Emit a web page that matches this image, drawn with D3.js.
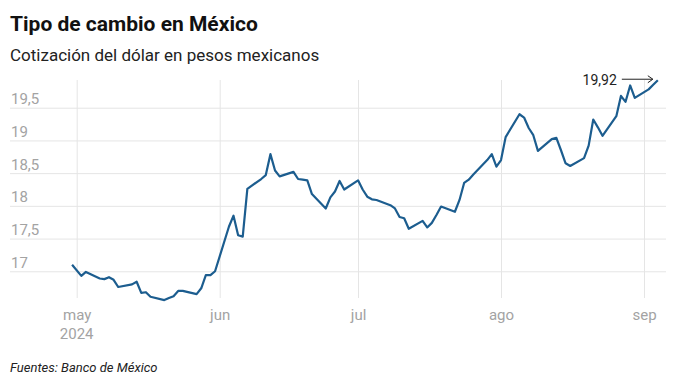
<!DOCTYPE html>
<html>
<head>
<meta charset="utf-8">
<script src="https://cdn.jsdelivr.net/npm/d3@7"></script>
<style>
	body { margin: 0; background: #fff; }
	svg { display: block; }
</style>
</head>
<body>
<div class="chart"></div>
<script>
var width = 680;
var height = 392;

var lineColor = "#1c5d8f";
var gridColor = "#e5e5e5";
var labelColor = "#a3a3a3";

// data: Banxico FIX, business days
var dates = [
	"2024-04-30", "2024-05-02", "2024-05-03", "2024-05-06", "2024-05-07", "2024-05-08", "2024-05-09", "2024-05-10",
	"2024-05-13", "2024-05-14", "2024-05-15", "2024-05-16", "2024-05-17", "2024-05-20", "2024-05-21", "2024-05-22",
	"2024-05-23", "2024-05-24", "2024-05-27", "2024-05-28", "2024-05-29", "2024-05-30", "2024-05-31",
	"2024-06-03", "2024-06-04", "2024-06-05", "2024-06-06", "2024-06-07", "2024-06-10", "2024-06-11", "2024-06-12",
	"2024-06-13", "2024-06-14", "2024-06-17", "2024-06-18", "2024-06-19", "2024-06-20", "2024-06-21", "2024-06-24",
	"2024-06-25", "2024-06-26", "2024-06-27", "2024-06-28",
	"2024-07-01", "2024-07-02", "2024-07-03", "2024-07-04", "2024-07-05", "2024-07-08", "2024-07-09", "2024-07-10",
	"2024-07-11", "2024-07-12", "2024-07-15", "2024-07-16", "2024-07-17", "2024-07-18", "2024-07-19", "2024-07-22",
	"2024-07-23", "2024-07-24", "2024-07-25", "2024-07-26", "2024-07-29", "2024-07-30", "2024-07-31",
	"2024-08-01", "2024-08-02", "2024-08-05", "2024-08-06", "2024-08-07", "2024-08-08", "2024-08-09", "2024-08-12",
	"2024-08-13", "2024-08-14", "2024-08-15", "2024-08-16", "2024-08-19", "2024-08-20", "2024-08-21", "2024-08-22",
	"2024-08-23", "2024-08-26", "2024-08-27", "2024-08-28", "2024-08-29", "2024-08-30",
	"2024-09-02", "2024-09-03", "2024-09-04"
];
var values = [
	17.10, 16.93, 16.99, 16.89, 16.88, 16.91, 16.87, 16.76,
	16.80, 16.84, 16.67, 16.68, 16.61, 16.56, 16.59, 16.62,
	16.70, 16.70, 16.65, 16.74, 16.94, 16.94, 17.00,
	17.68, 17.85, 17.55, 17.53, 18.26, 18.41, 18.47, 18.79,
	18.54, 18.45, 18.52, 18.41, 18.40, 18.39, 18.18, 17.96,
	18.13, 18.22, 18.38, 18.25,
	18.39, 18.25, 18.14, 18.10, 18.09, 18.01, 17.96, 17.83,
	17.81, 17.65, 17.77, 17.67, 17.74, 17.86, 17.99, 17.91,
	18.09, 18.35, 18.40, 18.48, 18.70, 18.79, 18.60,
	18.70, 19.05, 19.40, 19.35, 19.19, 19.08, 18.84, 19.02,
	19.04, 18.85, 18.65, 18.61, 18.73, 18.92, 19.32, 19.20,
	19.07, 19.37, 19.68, 19.59, 19.84, 19.65,
	19.78, 19.85, 19.92
];

var yTicks = [17, 17.5, 18, 18.5, 19, 19.5];
var monthTicks = ["2024-05-01", "2024-06-01", "2024-07-01", "2024-08-01", "2024-09-01"];
var monthLabels = ["may", "jun", "jul", "ago", "sep"];
var yearLabel = "2024";

var title = "Tipo de cambio en México";
var subtitle = "Cotización del dólar en pesos mexicanos";
var source = "Fuentes: Banco de México";

var parse = d3.utcParse("%Y-%m-%d");
var es = d3.formatLocale({ decimal: ",", thousands: ".", grouping: [3], currency: ["$", ""] });
var fmt = es.format(".2~f");

var data = dates.map((d, i) => ({ date: parse(d), value: values[i] }));

// scales
var x = d3.scaleUtc()
	.domain([parse("2024-05-01"), parse("2024-09-01")])
	.range([76.7, 644]);
var y = d3.scaleLinear()
	.domain([16.5, 20])
	.range([304, 75]);

var svg = d3.select('.chart').append('svg')
	.attr("width", width)
	.attr("height", height)
	.style("font-family", "Roboto, 'Liberation Sans', sans-serif");

// titles
svg.append('text')
	.attr('x', 10).attr('y', 31)
	.attr('font-size', 21).attr('font-weight', 700)
	.attr('fill', '#111')
	.text(title);
svg.append('text')
	.attr('x', 10).attr('y', 61)
	.attr('font-size', 17)
	.attr('fill', '#222')
	.text(subtitle);

// horizontal grid + y labels
var yAxis = d3.axisLeft(y)
	.tickValues(yTicks)
	.tickSize(-(666 - 10))
	.tickFormat(es.format("~r"));
svg.append('g')
	.attr('transform', 'translate(10,0)')
	.call(yAxis)
	.call(g => g.select('.domain').remove())
	.call(g => g.selectAll('.tick line').attr('stroke', gridColor))
	.call(g => g.selectAll('.tick text')
		.attr('x', 1).attr('dy', -4)
		.attr('text-anchor', 'start')
		.attr('font-size', 15)
		.attr('font-family', "Roboto, sans-serif")
		.attr('fill', labelColor));

// vertical grid + month labels
var xAxis = d3.axisBottom(x)
	.tickValues(monthTicks.map(parse))
	.tickSize(-(298 - 80))
	.tickFormat((d, i) => monthLabels[i]);
svg.append('g')
	.attr('transform', 'translate(0,298)')
	.call(xAxis)
	.call(g => g.select('.domain').remove())
	.call(g => g.selectAll('.tick line').attr('stroke', gridColor))
	.call(g => g.selectAll('.tick text')
		.attr('y', 22).attr('dy', 0)
		.attr('font-size', 15)
		.attr('font-family', "Roboto, sans-serif")
		.attr('fill', labelColor));

svg.append('text')
	.attr('x', x(parse(monthTicks[0]))).attr('y', 339)
	.attr('text-anchor', 'middle')
	.attr('font-size', 15)
	.attr('fill', labelColor)
	.text(yearLabel);

// line
var line = d3.line()
	.x(d => x(d.date))
	.y(d => y(d.value));
svg.append('path')
	.datum(data)
	.attr('d', line)
	.attr('fill', 'none')
	.attr('stroke', lineColor)
	.attr('stroke-width', 2.2)
	.attr('stroke-linejoin', 'round');

// last value annotation
var last = data[data.length - 1];
var ax = x(last.date), ay = y(last.value);
svg.append('text')
	.attr('x', ax - 41).attr('y', ay + 5)
	.attr('text-anchor', 'end')
	.attr('font-size', 14)
	.attr('fill', '#222')
	.text(fmt(last.value));
svg.append('path')
	.attr('d', 'M' + (ax - 36) + ',' + (ay - 1) + 'H' + (ax - 5)
		+ 'M' + (ax - 10) + ',' + (ay - 4.5) + 'L' + (ax - 5) + ',' + (ay - 1) + 'L' + (ax - 10) + ',' + (ay + 2.5))
	.attr('fill', 'none')
	.attr('stroke', '#222')
	.attr('stroke-width', 1);

// source
svg.append('text')
	.attr('x', 10).attr('y', 372)
	.attr('font-size', 13)
	.attr('font-style', 'italic')
	.attr('fill', '#222')
	.text(source);
</script>
</body>
</html>
